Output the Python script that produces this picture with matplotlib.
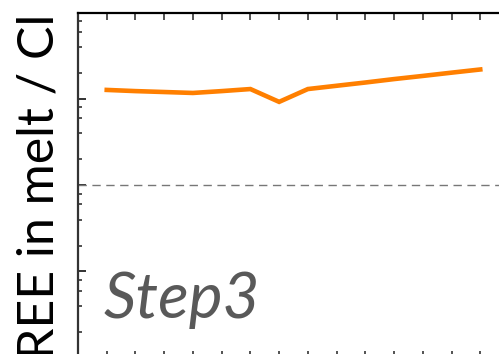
import matplotlib
matplotlib.use("Agg")
import matplotlib.pyplot as plt
from matplotlib.ticker import LogLocator, NullFormatter, FixedLocator
import numpy as np

# Rare earth elements along the x axis
elements = ["La", "Ce", "Pr", "Nd", "Sm", "Eu", "Gd", "Tb",
            "Dy", "Ho", "Er", "Tm", "Yb", "Lu"]
# Ratio of REE concentration in melt to Cl
ratio_step3 = [12.8, 12.4, 12.1, 11.8, 12.4, 13.1, 9.3, 13.1,
               14.3, 15.6, 17.1, 18.6, 20.3, 22.1]
reference_level = 1.0
panel_label = "Step3"
y_label = "REE in melt / Cl"

W, H = 499, 354
fig = plt.figure(figsize=(W / 100, H / 100), dpi=100)

# Axes box in pixels (the panel continues past the lower/right edges)
left_px, top_px, right_px, bottom_px = 78, 13, 509, 357.6
ax = fig.add_axes([left_px / W, 1 - bottom_px / H,
                   (right_px - left_px) / W, (bottom_px - top_px) / H])

x = np.arange(len(elements))
ax.plot(x, ratio_step3, color="#ff7f00", lw=3.3, solid_joinstyle="miter")
ax.axhline(reference_level, color="#777777", lw=1.0, ls=(0, (6, 4)))

ax.set_yscale("log")
ax.set_ylim(0.01, 100)
ax.set_xlim(-1, len(elements))

ax.xaxis.set_major_locator(FixedLocator(x))
ax.yaxis.set_major_locator(LogLocator(base=10))
ax.yaxis.set_minor_locator(LogLocator(base=10, subs=(2, 4, 6, 8)))
ax.yaxis.set_minor_formatter(NullFormatter())

ax.tick_params(axis="x", which="both", direction="in", top=True, bottom=True,
               length=5, width=1.3, color="#444444",
               labelbottom=False, labeltop=False)
ax.tick_params(axis="y", which="major", direction="in", left=True, right=False,
               length=6, width=1.3, color="#222222", labelleft=False)
ax.tick_params(axis="y", which="minor", direction="in", left=True, right=False,
               length=3, width=1.1, color="#222222")

for side in ["left", "top", "right", "bottom"]:
    ax.spines[side].set_linewidth(1.6)
    ax.spines[side].set_color("black")
ax.spines["left"].set_color("#333333")

ax.text(104 / W, 1 - 318 / H, panel_label, transform=fig.transFigure,
        fontsize=46, fontstyle="italic", family="Lato", color="#595959",
        ha="left", va="baseline")

fig.text(40 / W, 1 - 186 / H, y_label, rotation=90, fontsize=36,
         family="Lato", color="black", ha="center", va="center")

fig.savefig("out.png", dpi=100)
